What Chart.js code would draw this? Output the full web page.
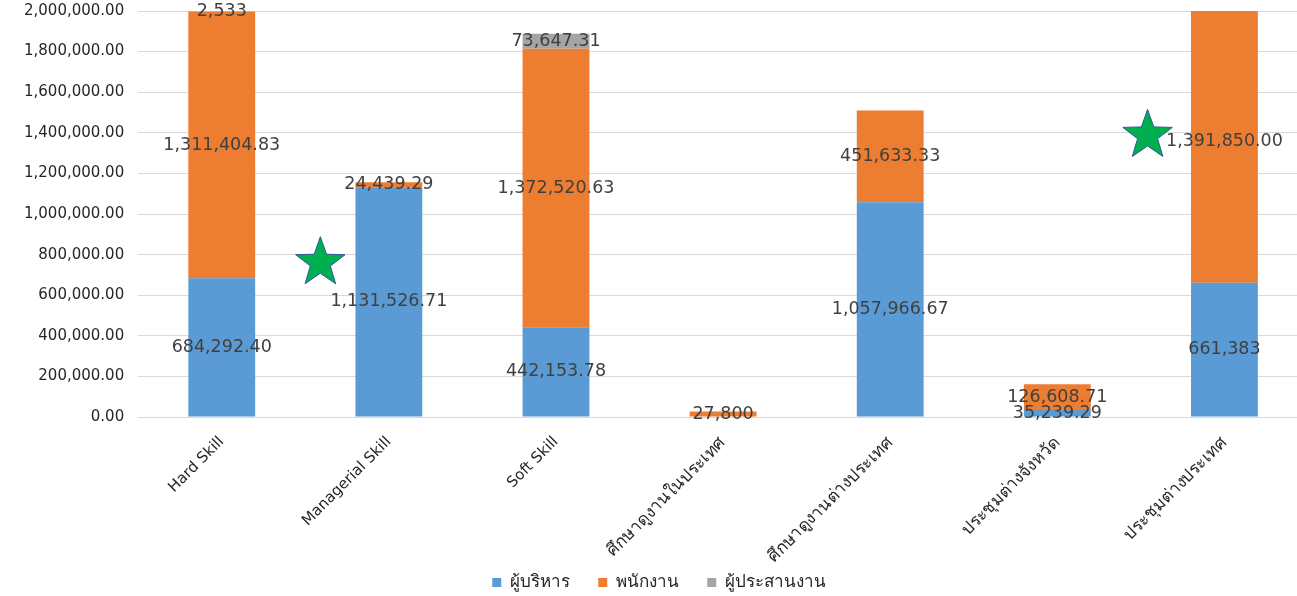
<!DOCTYPE html>
<html>
<head>
<meta charset="utf-8">
<script src="https://cdn.jsdelivr.net/npm/chart.js@4.4.1/dist/chart.umd.min.js"></script>
<style>
  html, body { margin: 0; padding: 0; background: #fff; overflow: hidden; }
  #wrap { width: 1310px; height: 596px; position: relative; }
</style>
</head>
<body>
<div id="wrap"><canvas id="c"></canvas></div>
<script>
const categories = ['Hard Skill', 'Managerial Skill', 'Soft Skill', 'ศึกษาดูงานในประเทศ', 'ศึกษาดูงานต่างประเทศ', 'ประชุมต่างจังหวัด', 'ประชุมต่างประเทศ'];
const seriesNames = ['ผู้บริหาร', 'พนักงาน', 'ผู้ประสานงาน'];
const executives = [684292.40, 1131526.71, 442153.78, 0, 1057966.67, 35239.29, 661383];
const employees = [1311404.83, 24439.29, 1372520.63, 27800, 451633.33, 126608.71, 1391850.00];
const coordinators = [2533, 0, 73647.31, 0, 0, 0, 0];
const labelDecimals = [
  [2, 2, 2, 0, 2, 2, 0],
  [2, 2, 2, 0, 2, 2, 2],
  [0, 0, 2, 0, 0, 0, 0]
];
const yTicks = { min: 0, max: 2000000, step: 200000 };
// decorative stars: x as fractional category position, y as value
const starX = [0.59, 5.54];
const starY = [775000, 1402000];

const fmt = (v, d) => v.toLocaleString('en-US', { minimumFractionDigits: d, maximumFractionDigits: d });
const isThai = (s) => /[\u0E00-\u0E7F]/.test(s);

const barLabelPlugin = {
  id: 'barLabels',
  afterDatasetsDraw(chart) {
    const ctx = chart.ctx;
    ctx.save();
    ctx.font = '17.5px "DejaVu Sans"';
    ctx.fillStyle = '#404040';
    ctx.textAlign = 'center';
    ctx.textBaseline = 'middle';
    chart.data.datasets.forEach((ds, di) => {
      const meta = chart.getDatasetMeta(di);
      meta.data.forEach((el, i) => {
        const v = ds.data[i];
        if (!v) return;
        const y = (el.y + el.base) / 2;
        ctx.fillText(fmt(v, labelDecimals[di][i]), el.x, y);
      });
    });
    ctx.restore();
  }
};

const starPlugin = {
  id: 'stars',
  afterDatasetsDraw(chart) {
    const ctx = chart.ctx;
    const xs = chart.scales.x, ys = chart.scales.y;
    ctx.save();
    starX.forEach((sx, k) => {
      const cx = xs.getPixelForValue(sx);
      const cy = ys.getPixelForValue(starY[k]);
      const R = 26, r = 10.5;
      ctx.beginPath();
      for (let j = 0; j < 10; j++) {
        const a = -Math.PI / 2 + j * Math.PI / 5;
        const rad = j % 2 === 0 ? R : r;
        const px = cx + rad * Math.cos(a), py = cy + 3 + rad * Math.sin(a);
        if (j === 0) ctx.moveTo(px, py); else ctx.lineTo(px, py);
      }
      ctx.closePath();
      ctx.fillStyle = '#00B050';
      ctx.fill();
      ctx.lineWidth = 1;
      ctx.strokeStyle = '#2F5597';
      ctx.stroke();
    });
    ctx.restore();
  }
};

new Chart(document.getElementById('c'), {
  type: 'bar',
  data: {
    labels: categories,
    datasets: [
      { label: seriesNames[0], data: executives, backgroundColor: '#5B9BD5' },
      { label: seriesNames[1], data: employees, backgroundColor: '#ED7D31' },
      { label: seriesNames[2], data: coordinators, backgroundColor: '#A5A5A5' }
    ]
  },
  options: {
    responsive: true,
    maintainAspectRatio: false,
    animation: false,
    layout: { padding: { left: 10, right: 2, top: 11, bottom: -5 } },
    datasets: { bar: { categoryPercentage: 1.0, barPercentage: 0.4 } },
    scales: {
      x: {
        stacked: true,
        grid: { display: false },
        border: { display: false },
        afterFit(scale) { scale.height -= 4; },
        ticks: {
          minRotation: 45, maxRotation: 45, autoSkip: false,
          color: '#262626',
          font: (c) => ({ family: '"DejaVu Sans"', size: isThai(categories[c.index] || '') ? 17 : 15 }),
          padding: 8
        }
      },
      y: {
        stacked: true,
        min: yTicks.min, max: yTicks.max,
        grid: { color: '#D9D9D9', lineWidth: 1, drawTicks: false },
        border: { display: false },
        afterFit(scale) { scale.paddingTop = 0; scale.paddingBottom = 0; },
        ticks: {
          stepSize: yTicks.step,
          color: '#262626',
          padding: 14,
          font: { family: '"DejaVu Sans"', size: 15 },
          callback: (v) => fmt(v, 2)
        }
      }
    },
    plugins: {
      legend: {
        position: 'bottom',
        labels: {
          boxWidth: 9, boxHeight: 9, padding: 3,
          color: '#262626',
          font: { family: '"DejaVu Sans"', size: 17 },
          generateLabels(chart) {
            const items = Chart.defaults.plugins.legend.labels.generateLabels(chart);
            items.forEach((it, i) => { if (i < items.length - 1) it.text = it.text + '\u2003\u2002'; });
            return items;
          }
        }
      },
      tooltip: { enabled: false }
    }
  },
  plugins: [barLabelPlugin, starPlugin]
});
</script>
</body>
</html>
